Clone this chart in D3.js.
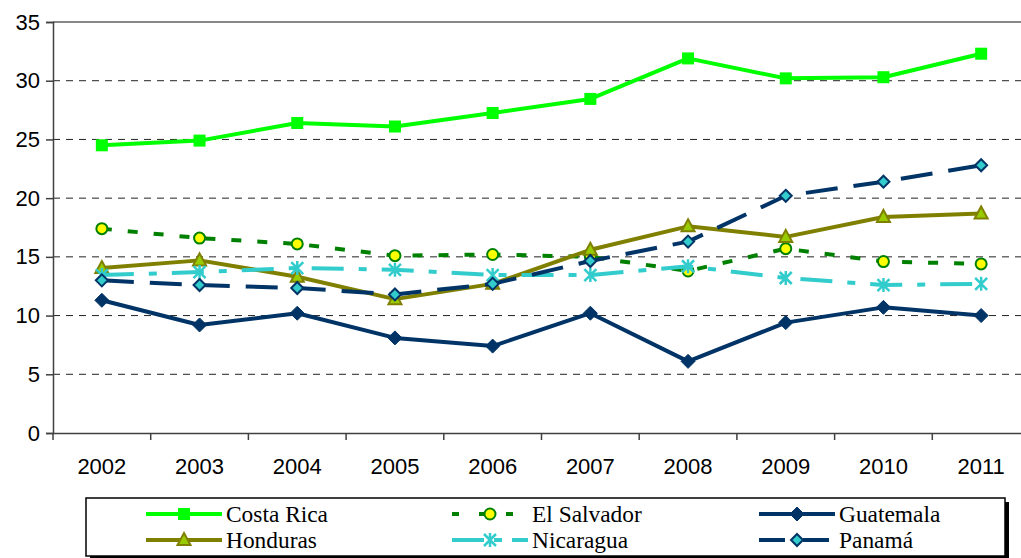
<!DOCTYPE html>
<html>
<head>
<meta charset="utf-8">
<script src="https://cdn.jsdelivr.net/npm/d3@7/dist/d3.min.js"></script>
<style>
  html, body { margin: 0; padding: 0; background: #fff; }
  svg { display: block; }
</style>
</head>
<body>
<svg id="chart" width="1021" height="558"></svg>
<script>
// Years on the category axis
const years = ["2002", "2003", "2004", "2005", "2006", "2007", "2008", "2009", "2010", "2011"];

// Series values per country
const costaRica  = [24.5, 24.9, 26.4, 26.1, 27.25, 28.45, 31.9, 30.2, 30.3, 32.3];
const elSalvador = [17.4, 16.6, 16.1, 15.1, 15.2, 15.0, 13.8, 15.7, 14.6, 14.4];
const guatemala  = [11.3, 9.2, 10.2, 8.1, 7.4, 10.2, 6.1, 9.4, 10.7, 10.0];
const honduras   = [14.05, 14.7, 13.3, 11.4, 12.7, 15.6, 17.6, 16.7, 18.4, 18.7];
const nicaragua  = [13.45, 13.7, 14.05, 13.9, 13.45, 13.45, 14.2, 13.2, 12.6, 12.7];
const panama     = [13.0, 12.6, 12.35, 11.8, 12.7, 14.65, 16.3, 20.2, 21.4, 22.8];

// Y axis ticks
const yTicks = [0, 5, 10, 15, 20, 25, 30, 35];

const series = [
  { name: "Costa Rica",  values: costaRica,  color: "#00ff00", dash: null,         legendDash: null,         marker: "square",   fill: "#00ff00", mstroke: "#00ff00" },
  { name: "El Salvador", values: elSalvador, color: "#008000", dash: "10,16",      legendDash: "7,20",       marker: "circle",   fill: "#ffff00", mstroke: "#008000" },
  { name: "Guatemala",   values: guatemala,  color: "#003366", dash: null,         legendDash: null,         marker: "diamond",  fill: "#003366", mstroke: "#003366" },
  { name: "Honduras",    values: honduras,   color: "#808000", dash: null,         legendDash: null,         marker: "triangle", fill: "#99cc00", mstroke: "#808000" },
  { name: "Nicaragua",   values: nicaragua,  color: "#33cccc", dash: "32,15,8,15", legendDash: "32,10,8,10", marker: "star",     fill: "none",    mstroke: "#33cccc" },
  { name: "Panamá",      values: panama,     color: "#003366", dash: "32,16",      legendDash: "26,18",      marker: "diamond",  fill: "#33cccc", mstroke: "#003366" }
];

const svg = d3.select("#chart");

const plotLeft = 53, plotTop = 22, plotBottom = 433;
const step = 97.7;
const plotRight = plotLeft + step * years.length;

const x = d3.scaleBand().domain(years).range([plotLeft, plotRight]).padding(0);
const y = d3.scaleLinear().domain([0, 35]).range([plotBottom, plotTop]);
const cx = d => x(d) + x.bandwidth() / 2;

const sans = "'Liberation Sans', Arial, sans-serif";
const serif = "'Liberation Serif', 'Times New Roman', serif";

// Gridlines
svg.append("g")
  .selectAll("line")
  .data(yTicks.filter(t => t > 0 && t < 35))
  .join("line")
  .attr("x1", plotLeft).attr("x2", plotRight)
  .attr("y1", d => y(d)).attr("y2", d => y(d))
  .attr("stroke", "#222").attr("stroke-width", 1)
  .attr("stroke-dasharray", "7,6");

// Top border of plot area
svg.append("line")
  .attr("x1", plotLeft).attr("x2", plotRight)
  .attr("y1", y(35)).attr("y2", y(35))
  .attr("stroke", "#888").attr("stroke-width", 2);

// Y axis
const yAxis = d3.axisLeft(y).tickValues(yTicks).tickSize(7).tickPadding(6);
const gy = svg.append("g").attr("transform", `translate(${plotLeft},0)`).call(yAxis);
gy.select(".domain").attr("stroke", "#404040").attr("stroke-width", 1.5);
gy.selectAll(".tick line").attr("stroke", "#404040").attr("stroke-width", 1.5);
gy.selectAll(".tick text")
  .attr("font-family", sans).attr("font-size", 22).attr("fill", "#000");

// X axis
const xAxis = d3.axisBottom(x).tickSize(0).tickPadding(0);
const gx = svg.append("g").attr("transform", `translate(0,${plotBottom})`).call(xAxis);
gx.select(".domain").attr("stroke", "#404040").attr("stroke-width", 1.5);
gx.selectAll(".tick text")
  .attr("font-family", sans).attr("font-size", 22).attr("fill", "#000")
  .attr("dy", 0).attr("y", 41);
// Category boundary tick marks
gx.append("g").selectAll("line")
  .data(years)
  .join("line")
  .attr("x1", d => x(d)).attr("x2", d => x(d))
  .attr("y1", 0).attr("y2", 7)
  .attr("stroke", "#404040").attr("stroke-width", 1.5);

// Marker drawing
function drawMarker(g, s, px, py) {
  if (s.marker === "square") {
    g.append("rect").attr("x", px - 6).attr("y", py - 6).attr("width", 12).attr("height", 12)
      .attr("fill", s.fill);
  } else if (s.marker === "circle") {
    g.append("circle").attr("cx", px).attr("cy", py).attr("r", 5.5)
      .attr("fill", s.fill).attr("stroke", s.mstroke).attr("stroke-width", 2);
  } else if (s.marker === "diamond") {
    const solid = s.fill === s.mstroke;
    const r = solid ? 7 : 6;
    g.append("path")
      .attr("d", `M${px},${py - r}L${px + r},${py}L${px},${py + r}L${px - r},${py}Z`)
      .attr("fill", s.fill).attr("stroke", s.mstroke).attr("stroke-width", solid ? 1 : 2);
  } else if (s.marker === "triangle") {
    g.append("path")
      .attr("d", `M${px},${py - 7}L${px + 6.5},${py + 5}L${px - 6.5},${py + 5}Z`)
      .attr("fill", s.fill).attr("stroke", s.mstroke).attr("stroke-width", 2);
  } else if (s.marker === "star") {
    const r = 6;
    g.append("path")
      .attr("d", `M${px - r},${py - r}L${px + r},${py + r}M${px + r},${py - r}L${px - r},${py + r}M${px},${py - r - 1}L${px},${py + r + 1}`)
      .attr("stroke", s.mstroke).attr("stroke-width", 2.5).attr("fill", "none");
  }
}

const line = d3.line().x(d => cx(d.year)).y(d => y(d.value));

series.forEach(s => {
  const pts = years.map((yr, i) => ({ year: yr, value: s.values[i] }));
  const g = svg.append("g");
  g.append("path")
    .datum(pts)
    .attr("d", line)
    .attr("fill", "none")
    .attr("stroke", s.color)
    .attr("stroke-width", 4)
    .attr("stroke-linejoin", "round")
    .attr("stroke-dasharray", s.dash);
  pts.forEach(p => drawMarker(g, s, cx(p.year), y(p.value)));
});

// Legend with drop shadow
const lg = svg.append("g");
lg.append("rect").attr("x", 90).attr("y", 502).attr("width", 919).attr("height", 58).attr("fill", "#000");
lg.append("rect").attr("x", 86).attr("y", 498).attr("width", 919).attr("height", 58)
  .attr("fill", "#fff").attr("stroke", "#000").attr("stroke-width", 1.5);

const colX = [146, 452, 759];
const rowY = [514, 540];
series.forEach((s, i) => {
  const lx = colX[i % 3], ly = rowY[Math.floor(i / 3)];
  const g = lg.append("g");
  g.append("line")
    .attr("x1", lx).attr("x2", lx + 76).attr("y1", ly).attr("y2", ly)
    .attr("stroke", s.color).attr("stroke-width", 4)
    .attr("stroke-dasharray", s.legendDash);
  drawMarker(g, s, lx + 38, ly);
  g.append("text")
    .attr("x", lx + 80).attr("y", ly + 8)
    .attr("font-family", serif).attr("font-size", 23.4).attr("fill", "#000")
    .text(s.name);
});
</script>
</body>
</html>
